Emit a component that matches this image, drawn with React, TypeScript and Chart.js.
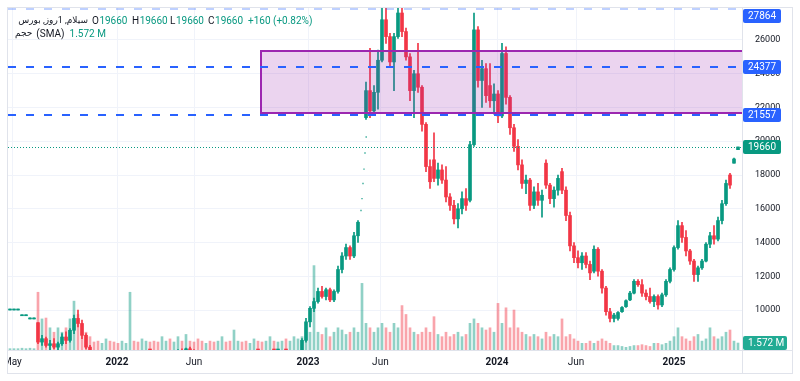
import React, { useEffect, useRef } from "react";
import { Chart, registerables } from "chart.js";
Chart.register(...registerables);

const FONT = "Roboto, 'Noto Sans', 'DejaVu Sans', sans-serif";
const GREEN = "#089981";
const RED = "#F23645";
const TEXT = "#131722";

// weekly-ish candles (index = candle number)
const opens: (number | null)[] = [
  10000,10000,10000,9660,9660,9470,9470,9250,8100,8300,7900,8000,7800,8000,8400,8200,8800,9500,9200,8500,7800,
  7400,7200,7000,7150,7300,7150,6900,6700,6900,7100,7350,7100,6950,7050,7250,7200,7050,6900,7150,7400,
  7300,7450,7600,7450,7700,7500,7250,7050,6850,6950,6800,6600,6750,6900,6700,6500,6650,6800,6650,6500,
  6600,6800,6750,6600,6700,6900,6850,6900,7050,7000,7100,7300,
  7500,8200,9300,10100,10500,11100,10800,11200,10600,11100,12400,13200,13700,13200,14400,null,
  21400,23000,21800,22900,24800,27200,26200,24700,26200,27600,26500,25000,23000,24000,23200,21000,18500,18900,17800,18300,17700,16700,
  16200,15400,16000,16600,16500,19800,26600,23600,24300,23300,22400,22800,21500,25200,22600,20800,19700,18600,17500,17700,
  16200,17000,16500,18700,17400,16600,17100,18200,17100,15600,13800,13100,12800,13200,12700,12300,13600,12300,11300,9900,
  9500,9500,9900,10200,10600,11000,11700,11500,11000,10800,10500,10800,10300,10900,11700,12400,13700,15000,14300,13500,
  12900,12100,12500,12900,13900,14400,14200,15300,16300,18000,18700,19500,
];
const highs: (number | null)[] = [
  10000,10000,10000,9660,9660,9470,9470,9250,8500,8400,8200,8300,8100,8600,8700,8900,9700,10000,9400,8600,7900,
  7550,7300,7250,7400,7450,7200,7000,6950,7150,7400,7450,7200,7100,7300,7400,7350,7150,7200,7450,7550,
  7500,7650,7700,7750,7800,7650,7400,7150,7000,7050,6900,6800,6950,7000,6800,6700,6850,6900,6750,6650,
  6850,6950,6800,6750,6950,7050,6950,7100,7200,7150,7350,7550,
  8300,9500,10200,10700,11300,11400,11300,11300,11200,12600,13400,13900,13800,14600,15300,null,
  23500,25500,23300,25400,28000,28000,26400,26400,28000,28000,26700,25200,24200,25800,23300,21100,18900,20500,18700,18600,18500,16900,
  16500,16300,17000,17200,20000,27600,26800,24800,24600,24600,23400,23000,25800,25600,22700,21000,20100,18900,18000,17800,
  17300,17500,17100,18900,17500,17300,18000,18400,17300,15800,14000,13500,13400,13400,12900,13800,13700,12400,11400,10100,
  9800,9900,10200,10600,11100,11800,11800,11800,11200,11300,10900,10900,11000,11800,12500,13800,15300,15200,14700,13600,
  13000,12600,13000,14000,14600,15000,15500,16500,17700,18100,19000,19660,
];
const lows: (number | null)[] = [
  10000,10000,10000,9660,9660,9470,9470,8000,7900,7800,7600,7700,7600,7900,8000,8100,8600,9000,8300,7700,7300,
  7100,6900,6850,7050,7100,6800,6600,6600,6850,7000,7050,6850,6800,6950,7100,7000,6850,6850,7100,7250,
  7200,7350,7400,7400,7450,7200,7000,6800,6700,6750,6550,6500,6700,6650,6450,6400,6600,6600,6450,6400,
  6550,6700,6550,6500,6650,6800,6700,6850,6950,6900,7050,7200,
  7400,8100,9000,9900,10400,10700,10600,10500,10500,11000,12200,13000,13000,13100,14000,null,
  21300,21400,21700,21900,24700,25800,24400,23000,26100,26200,24800,22400,21400,22900,20600,18200,17200,17600,17400,17500,16400,15900,
  15100,14860,15700,15900,16400,19700,23200,22000,22300,22000,21600,21100,21400,22200,20400,19400,18300,17200,16900,15900,
  16000,16200,15500,17200,16300,16100,16800,16900,15300,13500,12800,12500,12400,12500,11800,12200,12000,11000,9700,9300,
  9300,9400,9850,10150,10550,10950,11400,10800,10600,10400,10200,10050,10200,10800,11600,12300,13600,14000,13200,12700,
  11700,11700,12400,12850,13700,13900,14100,15100,16200,17200,18700,19500,
];
const closes: (number | null)[] = [
  10000,10000,10000,9660,9660,9470,9470,8100,8300,7900,8000,7800,8000,8400,8200,8800,9500,9200,8500,7800,7400,
  7200,7000,7150,7300,7150,6900,6700,6900,7100,7350,7100,6950,7050,7250,7200,7050,6900,7150,7400,7300,
  7450,7600,7450,7700,7500,7250,7050,6850,6950,6800,6600,6750,6900,6700,6500,6650,6800,6650,6500,6600,
  6800,6750,6600,6700,6900,6850,6900,7050,7000,7100,7300,7500,
  8200,9300,10100,10500,11100,10800,11200,10600,11100,12400,13200,13700,13200,14400,15200,null,
  23000,21800,22900,24800,27200,26200,24700,26200,27600,26500,25000,23000,24000,23200,21000,18500,17600,17800,18300,17700,16700,16200,
  15400,16000,16600,16200,19800,26600,23600,24300,22700,22400,22800,21500,25200,22600,20800,19700,18600,17500,17700,16200,
  17000,16500,16800,17400,16600,17100,17800,17100,15600,13800,13100,12800,13200,12700,12200,13600,12300,11300,9900,9500,
  9700,9850,10150,10550,11000,11700,11500,11000,10800,10500,10800,10300,10900,11700,12400,13700,15000,14300,13500,12900,
  12100,12500,12900,13900,14400,14200,15300,16300,17500,17400,18950,19660,
];
// volume in millions
const volumes: number[] = [
  0.3,0.3,0.3,0.4,0.3,0.4,0.3,13,7,7.2,5,4,5,4,5,7,11,8,6,4,3,
  1.8,2,1.5,2.5,2,1.8,1.5,2,1.5,13,2,1.8,2.5,2,1.8,2,1.8,3,2,2.5,
  1.8,3,2,3.5,2,1.8,2.5,2,1.5,2,1.8,2,3,1.8,2,4.5,2,1.8,2,1.5,
  2.5,2,1.8,2,3,2,1.8,2,2.5,2,3,2.5,
  3,5,4,19,4,3.5,5,3,4,5,4.5,3.5,4,5,4,15,
  6,5,4,5,6,5,4,6,5,10,8,5,4,3.5,4,5,4,7.5,3.5,3,4,3,
  3.5,4,3,3.5,6,7,6,5,4.5,5,4,10.5,6,9.5,5,9,5,4,3.5,3,
  3.5,3,2.5,4,3,3.5,3,7,3,3.5,2.5,2,1.5,1.5,2,1.5,2,2.5,2,1.5,
  1,1,0.8,0.6,0.8,1,1,1.2,1,0.8,1.5,1.5,1.2,1.5,2,3,5,3,2.5,2,
  3,3.5,2,2.5,5,3,2.5,3,4,4.5,2,1.572,
];
// single-price (limit-up) days shown as dots
const dotIdx = [87.75, 88, 88.25, 88.5, 88.75, 89.05];
const dotPrice = [15900, 16600, 17500, 18350, 19300, 20250];

const timeTickIdx = [0.6, 26.75, 46, 74.5, 92.6, 121.75, 141.5, 166];
const timeTickLabels = ["May", "2022", "Jun", "2023", "Jun", "2024", "Jun", "2025"];
const priceTicks = [10000, 12000, 14000, 16000, 18000, 20000, 22000, 24000, 26000];

const symbolTitle = "سیلام, 1روز, بورس";
const volumeTitle = "حجم";
const alertLevels = [27864, 24377, 21557];
const lastPrice = 19660;
const lastChange = "+160 (+0.82%)";
const lastVolume = 1.572;
const lastVolumeText = "1.572 M";
const zoneStartIdx = 62.7;
const zoneTop = 25370;
const zoneBottom = 21690;

export default function App() {
  const ref = useRef<HTMLCanvasElement>(null);
  useEffect(() => {
    const canvas = ref.current!;
    const idx = opens.map((_, i) => i).filter((i) => opens[i] !== null);
    const up = (i: number) => (closes[i] as number) >= (opens[i] as number);
    const candleColor = idx.map((i) => (up(i) ? GREEN : RED));
    const volColor = volumes.map((_, i) =>
      opens[i] === null || up(i) ? "rgba(8,153,129,0.45)" : "rgba(242,54,69,0.45)"
    );

    const overlay = {
      id: "overlay",
      afterDatasetsDraw(chart: any) {
        const { ctx, chartArea: a, scales } = chart;
        const xs = scales.x, ys = scales.y;
        ctx.save();
        ctx.beginPath();
        ctx.rect(a.left, a.top - 2, a.right - a.left, a.bottom - a.top + 2);
        ctx.clip();
        // zone rectangle
        const zx = Math.round(xs.getPixelForValue(zoneStartIdx));
        const zt = Math.round(ys.getPixelForValue(zoneTop));
        const zb = Math.round(ys.getPixelForValue(zoneBottom));
        ctx.fillStyle = "rgba(156,39,176,0.2)";
        ctx.fillRect(zx, zt, a.right - zx, zb - zt);
        ctx.strokeStyle = "#9C27B0";
        ctx.lineWidth = 2;
        ctx.strokeRect(zx, zt, a.right - zx + 4, zb - zt);
        // dashed alert lines
        ctx.setLineDash([8, 10]);
        ctx.lineWidth = 2;
        alertLevels.forEach((lv, k) => {
          const y = Math.max(a.top + 1, Math.round(ys.getPixelForValue(lv)));
          ctx.strokeStyle = k === 0 ? "rgba(41,98,255,0.3)" : "#2962FF";
          ctx.beginPath();
          ctx.moveTo(a.left, y);
          ctx.lineTo(a.right, y);
          ctx.stroke();
        });
        // dotted last-price line
        ctx.setLineDash([1, 2]);
        ctx.lineWidth = 1;
        ctx.strokeStyle = GREEN;
        const py = Math.round(ys.getPixelForValue(lastPrice)) + 0.5;
        ctx.beginPath();
        ctx.moveTo(a.left, py);
        ctx.lineTo(a.right, py);
        ctx.stroke();
        ctx.restore();
      },
      afterDraw(chart: any) {
        const { ctx, chartArea: a, scales } = chart;
        const ys = scales.y, yv = scales.yv;
        ctx.save();
        // left overflow cover + frame
        ctx.fillStyle = "#fff";
        ctx.fillRect(0, 0, 8, 381);
        ctx.strokeStyle = "#e0e3eb";
        ctx.lineWidth = 1;
        ctx.strokeRect(7.5, 7.5, 785, 366);
        ctx.beginPath();
        ctx.moveTo(a.right + 0.5, 8);
        ctx.lineTo(a.right + 0.5, 373);
        ctx.moveTo(8, a.bottom + 0.5);
        ctx.lineTo(792, a.bottom + 0.5);
        ctx.stroke();

        // price labels
        const box = (v: number, text: string, color: string, w: number, yPix?: number) => {
          const h = 14;
          let cy = yPix !== undefined ? yPix : ys.getPixelForValue(v);
          cy = Math.max(a.top + h / 2 + 1, Math.min(a.bottom - h / 2, cy));
          cy = Math.round(cy);
          ctx.fillStyle = color;
          ctx.beginPath();
          (ctx as any).roundRect(a.right + 1, cy - h / 2, w, h, 2);
          ctx.fill();
          ctx.fillStyle = "#fff";
          ctx.font = `10px ${FONT}`;
          ctx.textAlign = "left";
          ctx.textBaseline = "middle";
          ctx.fillText(text, a.right + 6, cy + 0.5);
        };
        alertLevels.forEach((lv) => box(lv, String(lv), "#2962FF", 38));
        box(lastPrice, String(lastPrice), GREEN, 38);
        box(0, lastVolumeText, "#22ab94", 44, yv.getPixelForValue(lastVolume));

        // legend
        ctx.textBaseline = "middle";
        const y1 = 21, y2 = 34;
        // symbol title (RTL)
        let fs = 10;
        ctx.font = `${fs}px ${FONT}`;
        while (ctx.measureText(symbolTitle).width > 72 && fs > 7) {
          fs -= 0.5;
          ctx.font = `${fs}px ${FONT}`;
        }
        ctx.fillStyle = TEXT;
        ctx.direction = "rtl";
        ctx.textAlign = "right";
        ctx.fillText(symbolTitle, 88, y1);
        ctx.direction = "ltr";
        ctx.textAlign = "left";
        ctx.font = `10px ${FONT}`;
        const ohlc: [string, number][] = [["O", 92], ["H", 132], ["L", 170], ["C", 208]];
        ohlc.forEach(([k, px]) => {
          ctx.fillStyle = TEXT;
          ctx.fillText(k, px, y1);
          ctx.fillStyle = GREEN;
          ctx.fillText(String(lastPrice), px + ctx.measureText(k).width + 0.5, y1);
        });
        ctx.fillStyle = GREEN;
        ctx.fillText(lastChange, 248, y1);
        ctx.fillStyle = TEXT;
        ctx.font = `${fs}px ${FONT}`;
        ctx.fillText(volumeTitle, 15, y2);
        let x2 = 15 + ctx.measureText(volumeTitle).width + 4;
        ctx.font = `10px ${FONT}`;
        ctx.fillText("(SMA)", x2, y2);
        x2 += ctx.measureText("(SMA)").width + 5;
        ctx.fillStyle = GREEN;
        ctx.fillText(lastVolumeText, x2, y2);
        ctx.restore();
      },
    };

    const chart = new Chart(canvas, {
      type: "bar",
      data: {
        datasets: [
          {
            type: "bar",
            label: "volume",
            data: volumes.map((v, i) => ({ x: i, y: v })) as any,
            yAxisID: "yv",
            backgroundColor: volColor,
            barThickness: 2,
            grouped: false,
            order: 4,
          },
          {
            type: "bar",
            label: "wick",
            data: idx.map((i) => ({ x: i, y: [lows[i], highs[i]] })) as any,
            yAxisID: "y",
            backgroundColor: candleColor,
            barThickness: 1,
            minBarLength: 1,
            grouped: false,
            order: 3,
          },
          {
            type: "bar",
            label: "body",
            data: idx.map((i) => ({ x: i, y: [opens[i], closes[i]] })) as any,
            yAxisID: "y",
            backgroundColor: candleColor,
            barThickness: 3,
            minBarLength: 1,
            grouped: false,
            order: 2,
          },
          {
            type: "scatter",
            label: "dots",
            data: dotIdx.map((x, k) => ({ x, y: dotPrice[k] })) as any,
            yAxisID: "y",
            pointRadius: 1,
            pointStyle: "rect",
            backgroundColor: "rgba(8,153,129,0.8)",
            borderWidth: 0,
            order: 1,
          } as any,
        ],
      },
      options: {
        responsive: false,
        animation: false,
        devicePixelRatio: 1,
        layout: { padding: { left: 8, top: 8, right: 8, bottom: 8 } },
        plugins: { legend: { display: false }, tooltip: { enabled: false } },
        scales: {
          x: {
            type: "linear",
            min: -0.5,
            max: 183,
            offset: false,
            grid: { color: "#f0f3fa", drawTicks: false, offset: false },
            border: { display: false },
            ticks: {
              autoSkip: false,
              maxRotation: 0,
              padding: 6,
              color: TEXT,
              font: (c: any) => ({
                family: FONT,
                size: 10,
                weight: /^\d{4}$/.test(timeTickLabels[c.index] || "") ? "bold" : "normal",
              }),
              callback: (_v: any, i: number) => timeTickLabels[i],
            },
            afterBuildTicks: (s: any) => {
              s.ticks = timeTickIdx.map((v) => ({ value: v }));
            },
            afterFit: (s: any) => {
              s.height = 23;
              s.paddingLeft = 0;
              s.paddingRight = 0;
            },
          } as any,
          y: {
            type: "linear",
            position: "right",
            min: 7630,
            max: 27896,
            grid: { color: "#f0f3fa", drawTicks: false },
            border: { display: false },
            ticks: {
              padding: 13,
              color: TEXT,
              font: { family: FONT, size: 9 },
              callback: (v: any) => String(v),
            },
            afterBuildTicks: (s: any) => {
              s.ticks = priceTicks.map((v) => ({ value: v }));
            },
            afterFit: (s: any) => {
              s.width = 50;
              s.paddingTop = 0;
              s.paddingBottom = 0;
            },
          } as any,
          yv: { type: "linear", display: false, min: 0, max: 77 },
        },
      },
      plugins: [overlay],
    });
    return () => chart.destroy();
  }, []);

  return (
    <div style={{ position: "absolute", left: 0, top: 0, width: 800, height: 381, background: "#fff" }}>
      <canvas ref={ref} width={800} height={381} style={{ display: "block", width: 800, height: 381 }} />
    </div>
  );
}
